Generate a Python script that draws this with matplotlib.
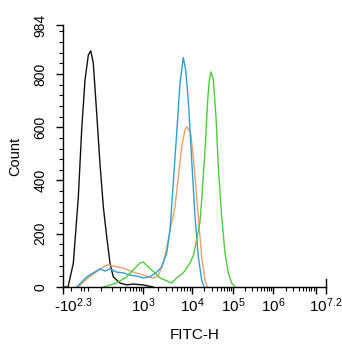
import numpy as np
import matplotlib
matplotlib.use("Agg")
import matplotlib.pyplot as plt
from matplotlib.ticker import FixedLocator, FixedFormatter
from matplotlib.transforms import ScaledTranslation

plt.rcParams['font.family'] = ['Liberation Sans', 'DejaVu Sans']
plt.rcParams['mathtext.default'] = 'regular'

# FITC-H intensity / event count for each histogram
black_x = [-200, -133, -80, -40, -16, 5, 22, 35, 49, 69, 90, 115, 143, 174, 210,
           303, 432, 600, 1000, 1600]
black_y = [0, 0, 90, 338, 590, 777, 871, 887, 841, 653, 466, 300, 188, 90, 38,
           15, 8, 11, 8, 0]

orange_x = [-42, 20, 59, 102, 143, 210, 362, 608, 1014, 1620, 2050, 2590, 3050,
            3560, 4500, 5250, 6170, 7200, 7800, 9400, 10760, 11840, 14250,
            17250, 20770, 23620]
orange_y = [0, 34, 53, 71, 83, 79, 71, 56, 45, 34, 41, 90, 146, 214, 300, 413,
            526, 590, 602, 578, 488, 414, 264, 114, 26, 0]

blue_x = [-52, 14, 49, 90, 128, 174, 252, 362, 513, 724, 1014, 1390, 1905, 2410,
          3050, 3560, 4150, 4870, 5690, 6640, 7430, 8400, 9860, 11840, 14250,
          17250, 19650]
blue_y = [0, 38, 53, 68, 60, 68, 56, 53, 45, 41, 34, 38, 56, 75, 128, 214, 390,
          578, 766, 862, 815, 702, 477, 264, 114, 26, 0]

green_x = [115, 252, 432, 663, 858, 1014, 1280, 1760, 2220, 3050, 3850, 4870,
           6640, 9100, 10900, 13000, 15600, 17250, 20770, 24150, 26420, 29060,
           33110, 38500, 43780, 52970, 63770, 76800, 92900, 112200]
green_y = [0, 15, 38, 71, 90, 94, 75, 53, 34, 23, 15, 34, 53, 90, 120, 176, 244,
           327, 514, 702, 777, 808, 777, 639, 452, 264, 128, 53, 15, 0]

x_major = [-200, 1e3, 1e4, 1e5, 1e6, 1e7, 10 ** 7.2]
x_major_labels = ['-$10^{2.3}$', '$10^{3}$', '$10^{4}$', '$10^{5}$', '$10^{6}$',
                  '', '$10^{7.2}$']
y_major = [0, 200, 400, 600, 800, 984]

# biexponential-style display scale: asinh near zero, piecewise per decade
knot_vals = np.array([-200, 0, 1e3, 1e4, 1e5, 1e6, 1e7, 10 ** 7.2])
knot_pos = np.array([63, 84, 143, 192, 233, 273, 315.5, 325.5])


def _g(x):
    return np.arcsinh(np.asarray(x, dtype=float) / 100.0) / np.log(10)


knot_g = _g(knot_vals)
# extend linearly past both ends
lo_slope = (knot_pos[1] - knot_pos[0]) / (knot_g[1] - knot_g[0])
hi_slope = (knot_pos[-1] - knot_pos[-2]) / (knot_g[-1] - knot_g[-2])
knot_g = np.concatenate([[knot_g[0] - 30], knot_g, [knot_g[-1] + 30]])
knot_pos = np.concatenate([[knot_pos[0] - 30 * lo_slope], knot_pos,
                           [knot_pos[-1] + 30 * hi_slope]])


def forward(x):
    return np.interp(_g(x), knot_g, knot_pos)


def inverse(p):
    return 100.0 * np.sinh(np.log(10) * np.interp(p, knot_pos, knot_g))


fig = plt.figure(figsize=(3.42, 3.5), dpi=100)
ax = fig.add_axes([63 / 342, 63 / 350, (325.5 - 63) / 342, 262 / 350])
ax.set_xscale('function', functions=(forward, inverse))

ax.plot(black_x, black_y, color='#111111', lw=1.0)
ax.plot(orange_x, orange_y, color='#e8a06e', lw=1.0)
ax.plot(blue_x, blue_y, color='#2f9fd2', lw=1.0)
ax.plot(green_x, green_y, color='#4dcc3e', lw=1.0)

ax.set_xlim(-200, 10 ** 7.2)
ax.set_ylim(0, 984)

ax.xaxis.set_major_locator(FixedLocator(x_major))
ax.xaxis.set_major_formatter(FixedFormatter(x_major_labels))
x_minor = [-100, -20, 0, 20]
for dec in [100, 1e3, 1e4, 1e5, 1e6]:
    x_minor += [m * dec for m in range(2, 10)]
x_minor.append(100)
ax.xaxis.set_minor_locator(FixedLocator(x_minor))

ax.yaxis.set_major_locator(FixedLocator(y_major))
ax.yaxis.set_minor_locator(FixedLocator([v for v in range(40, 984, 40) if v % 200]))

ax.spines['top'].set_visible(False)
ax.spines['right'].set_bounds(0, 30)
for sp in ax.spines.values():
    sp.set_linewidth(1.0)

ax.tick_params(axis='both', which='major', length=5, width=1, direction='out')
ax.tick_params(axis='both', which='minor', length=3, width=0.8, direction='out')
ax.tick_params(axis='x', labelsize=11, pad=2)
ax.tick_params(axis='y', labelsize=10, pad=6, labelrotation=90)
for lab in ax.get_yticklabels():
    lab.set_verticalalignment('center')

first = ax.get_xticklabels()[0]
first.set_transform(first.get_transform() + ScaledTranslation(10 / 100, 0, fig.dpi_scale_trans))

ax.set_xlabel('FITC-H', fontsize=11, labelpad=9)
ax.set_ylabel('Count', fontsize=10.5, labelpad=8)

fig.savefig('out.png', dpi=100)
